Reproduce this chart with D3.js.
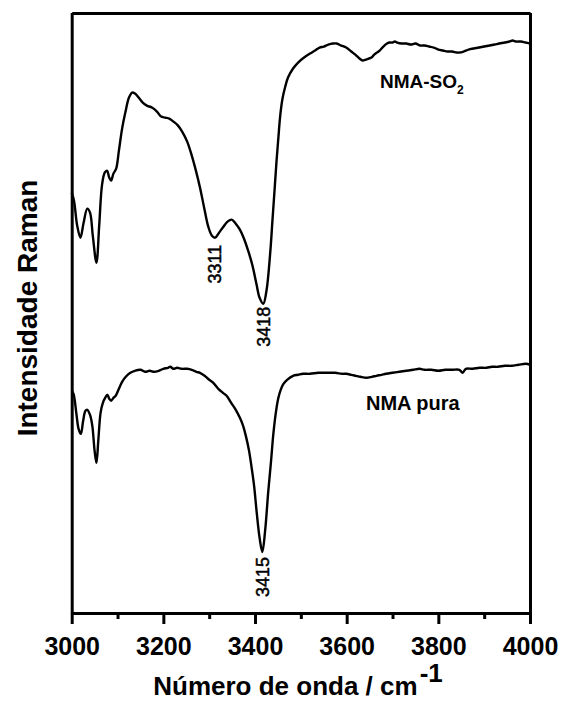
<!DOCTYPE html>
<html>
<head>
<meta charset="utf-8">
<script src="https://cdn.jsdelivr.net/npm/d3@7"></script>
<style>
body{margin:0;background:#fff;}
svg{display:block;}
text{font-family:"Liberation Sans",Arial,sans-serif;}
</style>
</head>
<body>
<div id="main"></div>
<script>
// Raman spectra, NMA + SO2 and pure NMA (intensity in arbitrary units)
var waveSO2=[3000,3005,3012,3019,3026,3034,3040,3046,3054,3060,3066,3072,3077,3082,3086,3091,3097,3103,3110,3117,3125,3132,3138,3146,3155,3164,3175,3186,3195,3204,3213,3222,3232,3241,3252,3262,3271,3280,3289,3298,3306,3313,3320,3331,3340,3349,3358,3367,3376,3385,3394,3403,3410,3418,3425,3433,3438,3443,3447,3451,3455,3460,3466,3472,3483,3494,3507,3520,3531,3541,3550,3560,3570,3578,3588,3599,3610,3621,3628,3635,3642,3648,3654,3660,3666,3672,3680,3688,3693,3700,3705,3710,3720,3730,3740,3750,3760,3770,3780,3790,3800,3810,3820,3830,3840,3846,3855,3866,3877,3889,3900,3912,3923,3933,3945,3955,3962,3970,3980,3990,4000];
var intSO2=[420,412,387,375,390,404,400,377,350,387,427,440,442,435,432,439,444,462,484,500,515,520,519,515,510,507,505,501,496,495,494,491,487,481,471,457,442,425,405,386,377,375,379,386,391,393,389,383,374,362,348,329,315,309,322,359,392,425,452,475,497,514,526,535,544,550,555,559,562,565,566,568,569,569,567,565,561,557,554,552,553,554,555,558,560,562,566,569,570,570,571,570,569,569,568,569,567,567,566,565,563,562,561,561,560,560,561,563,564,565,566,567,568,569,570,571,572,571,571,570,569];

var wavePura=[3000,3004,3010,3015,3020,3025,3030,3034,3040,3045,3050,3054,3058,3063,3068,3073,3078,3082,3086,3091,3096,3102,3110,3118,3128,3138,3150,3160,3170,3180,3190,3200,3210,3215,3222,3230,3240,3252,3262,3272,3280,3290,3300,3309,3320,3330,3338,3348,3358,3367,3374,3381,3387,3393,3398,3404,3410,3416,3422,3429,3435,3440,3446,3451,3456,3462,3470,3483,3494,3505,3520,3538,3550,3563,3575,3590,3599,3610,3620,3630,3643,3655,3665,3676,3686,3700,3715,3730,3745,3759,3770,3785,3800,3815,3830,3846,3853,3860,3875,3890,3905,3917,3930,3945,3960,3975,3991,4000];
var intPura=[222,219,200,184,179,192,202,203,198,187,162,150,172,200,210,215,218,214,212,215,217,223,231,236,240,242,243,241,242,241,242,244,245,246,244,245,244,244,243,241,240,237,233,230,224,220,217,210,203,195,187,175,162,144,127,99,75,61,82,122,152,179,202,215,223,229,233,237,238,239,239,240,240,240,240,239,239,238,237,236,235,236,237,238,239,240,241,242,243,244,243,243,242,243,243,243,240,244,244,245,245,246,246,247,247,248,249,248];

var xTicks=[3000,3200,3400,3600,3800,4000];
var xMinor=[3100,3300,3500,3700,3900];

var peakX=[3311,3418,3415];
var peakY=[368,306,56];
var peakLabels=['3311','3418','3415'];

var margin={left:71.7,right:31,top:13,bottom:88};
var width=561, height=701;
var svg=d3.select('#main').append('svg').attr('width',width).attr('height',height);
svg.append('rect').attr('width',width).attr('height',height).attr('fill','#fff');

var x=d3.scaleLinear().domain([3000,4000]).range([margin.left,width-margin.right]);
var y=d3.scaleLinear().domain([0,600]).range([height-margin.bottom,margin.top-0.5]);
var plotB=height-margin.bottom;

// minor ticks first
svg.append('g')
  .attr('transform',`translate(0,${plotB})`)
  .call(d3.axisBottom(x).tickValues(xMinor).tickSize(6).tickSizeOuter(0).tickFormat(''))
  .call(g=>g.select('.domain').remove())
  .selectAll('line').attr('stroke','#000').attr('stroke-width',3);

var xAxis=svg.append('g')
  .attr('transform',`translate(0,${plotB})`)
  .call(d3.axisBottom(x).tickValues(xTicks).tickSize(11).tickSizeOuter(0).tickPadding(13).tickFormat(d3.format('d')));
xAxis.select('.domain').attr('stroke','#000').attr('stroke-width',3);
xAxis.selectAll('line').attr('stroke','#000').attr('stroke-width',3);
xAxis.selectAll('text').attr('fill','#000').style('font-size','25px').style('font-weight','bold')
  .style('font-family','"Liberation Sans",Arial,sans-serif');

// frame: left, top, right
svg.append('g').attr('transform',`translate(${margin.left},0)`)
  .call(d3.axisLeft(y).tickValues([]).tickSizeOuter(0))
  .select('.domain').attr('stroke','#000').attr('stroke-width',3);
svg.append('g').attr('transform',`translate(${width-margin.right},0)`)
  .call(d3.axisRight(y).tickValues([]).tickSizeOuter(0))
  .select('.domain').attr('stroke','#000').attr('stroke-width',3);
svg.append('g').attr('transform',`translate(0,${margin.top})`)
  .call(d3.axisTop(x).tickValues([]).tickSizeOuter(0))
  .select('.domain').attr('stroke','#000').attr('stroke-width',3);

var line=d3.line().x(d=>x(d[0])).y(d=>y(d[1])).curve(d3.curveCatmullRom);

svg.append('path')
  .datum(d3.zip(waveSO2,intSO2))
  .attr('d',line).attr('fill','none').attr('stroke','#000').attr('stroke-width',2.4);
svg.append('path')
  .datum(d3.zip(wavePura,intPura))
  .attr('d',line).attr('fill','none').attr('stroke','#000').attr('stroke-width',2.4);

// peak labels (rotated)
peakLabels.forEach(function(t,i){
  svg.append('text')
    .attr('transform',`translate(${x(peakX[i])+0.5},${y(peakY[i])}) rotate(-90)`)
    .attr('text-anchor','end')
    .attr('dy','0.35em')
    .attr('stroke','#000').attr('stroke-width',0.5)
    .style('font-size','18px')
    .text(t);
});

// series labels
var lab1=svg.append('text').attr('x',380).attr('y',88).style('font-size','19px').style('font-weight','bold');
lab1.append('tspan').text('NMA-SO');
lab1.append('tspan').attr('dy',6).style('font-size','12px').text('2');
svg.append('text').attr('x',366).attr('y',410).style('font-size','20px').style('font-weight','bold').text('NMA pura');

// axis titles
var xt=svg.append('text').attr('x',298).attr('y',695).attr('text-anchor','middle')
  .style('font-size','26px').style('font-weight','bold');
xt.append('tspan').text('Número de onda / cm');
xt.append('tspan').attr('dy',-13).attr('dx',2).text('-1');

svg.append('text')
  .attr('transform','translate(27,308) rotate(-90)')
  .attr('text-anchor','middle').attr('dy','0.35em')
  .style('font-size','28px').style('font-weight','bold')
  .text('Intensidade Raman');
</script>
</body>
</html>
